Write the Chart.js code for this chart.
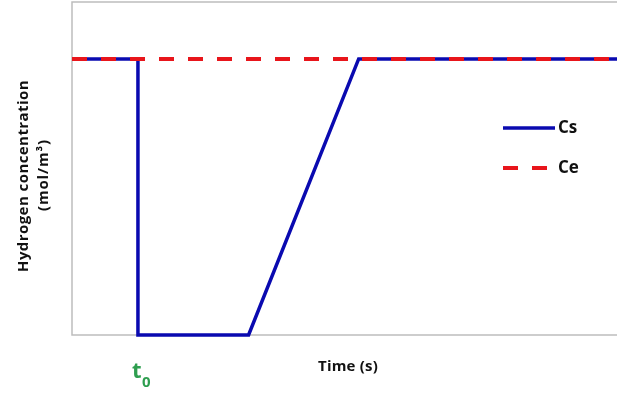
<!DOCTYPE html>
<html>
<head>
<meta charset="utf-8">
<script src="https://cdn.jsdelivr.net/npm/chart.js@4.4.1/dist/chart.umd.min.js"></script>
<style>
  html, body { margin: 0; padding: 0; background: #fff; }
  #wrap { width: 617px; height: 394px; }
</style>
</head>
<body>
<div id="wrap"><canvas id="chart"></canvas></div>
<script>
// time axis in arbitrary units (0..100), concentration normalised (Ce = 1)
const csTimes = [0, 12.1, 12.1, 32.4, 52.6, 100];
const csValues = [1, 1, 0, 0, 1, 1];
const ceTimes = [0, 100];
const ceValues = [1, 1];
const t0Time = 12.1;
const yTitle = ["Hydrogen concentration", "(mol/m\u00b3)"];
const xTitle = "Time (s)";

const BLUE = "#0a0ab0";
const RED = "#e8151b";
const GREEN = "#2e9e4f";

const toPoints = (xs, ys) => xs.map((x, i) => ({ x: x, y: ys[i] }));

// fit a string to a target width with a little letter spacing
function fitText(ctx, text, x, y, width) {
  ctx.letterSpacing = "0px";
  const w = ctx.measureText(text).width;
  ctx.letterSpacing = ((width - w) / text.length).toFixed(2) + "px";
  ctx.fillText(text, x, y);
  ctx.letterSpacing = "0px";
}

// draws the frame, axis titles, t0 marker and the legend
const decorations = {
  id: "decorations",
  beforeDatasetsDraw(chart) {
    const { ctx, chartArea: a } = chart;
    ctx.save();
    ctx.strokeStyle = "#bdbdbd";
    ctx.lineWidth = 1.5;
    ctx.beginPath();
    ctx.moveTo(chart.width, a.top);
    ctx.lineTo(a.left, a.top);
    ctx.lineTo(a.left, a.bottom);
    ctx.lineTo(chart.width, a.bottom);
    ctx.stroke();
    ctx.restore();
  },
  afterDraw(chart) {
    const { ctx } = chart;
    const xs = chart.scales.x;
    ctx.save();

    // y axis title, rotated, two lines
    ctx.fillStyle = "#111";
    ctx.textAlign = "center";
    ctx.textBaseline = "middle";
    ctx.font = "bold 15px 'Open Sans'";
    ctx.save();
    ctx.translate(24, 176);
    ctx.rotate(-Math.PI / 2);
    fitText(ctx, yTitle[0], 0, 0, 192);
    ctx.restore();
    ctx.save();
    ctx.translate(44, 175);
    ctx.rotate(-Math.PI / 2);
    fitText(ctx, yTitle[1], 0, 0, 72);
    ctx.restore();

    // x axis title
    fitText(ctx, xTitle, 348, 367, 60);

    // t0 marker under the drop
    const tx = xs.getPixelForValue(t0Time);
    ctx.fillStyle = GREEN;
    ctx.textAlign = "left";
    ctx.textBaseline = "alphabetic";
    ctx.font = "bold 22px 'Open Sans'";
    ctx.fillText("t", tx - 6, 378);
    ctx.font = "bold 15px 'Open Sans'";
    ctx.fillText("0", tx + 4, 387);

    // legend
    const items = chart.data.datasets;
    const rows = [128, 168];
    items.forEach((ds, i) => {
      const y = rows[i];
      ctx.strokeStyle = ds.borderColor;
      ctx.lineWidth = ds.borderWidth;
      ctx.setLineDash(ds.borderDash || []);
      ctx.beginPath();
      ctx.moveTo(503, y);
      ctx.lineTo(555, y);
      ctx.stroke();
      ctx.setLineDash([]);
      ctx.fillStyle = "#111";
      ctx.textBaseline = "middle";
      ctx.font = "bold 17px 'Open Sans'";
      ctx.fillText(ds.label, 558, y);
    });
    ctx.restore();
  }
};

new Chart(document.getElementById("chart"), {
  type: "line",
  data: {
    datasets: [
      {
        label: "Cs",
        data: toPoints(csTimes, csValues),
        borderColor: BLUE,
        borderWidth: 3.5,
        pointRadius: 0,
        tension: 0,
        order: 2,
        clip: false
      },
      {
        label: "Ce",
        data: toPoints(ceTimes, ceValues),
        borderColor: RED,
        borderWidth: 4,
        borderDash: [15, 14],
        pointRadius: 0,
        tension: 0,
        order: 1,
        clip: false
      }
    ]
  },
  options: {
    responsive: true,
    maintainAspectRatio: false,
    animation: false,
    events: [],
    layout: { padding: { left: 72, top: 2, right: 0, bottom: 59 } },
    plugins: { legend: { display: false }, tooltip: { enabled: false } },
    scales: {
      x: { type: "linear", min: 0, max: 100, display: false },
      y: { type: "linear", min: 0, max: 1.206, display: false }
    }
  },
  plugins: [decorations]
});
</script>
</body>
</html>
